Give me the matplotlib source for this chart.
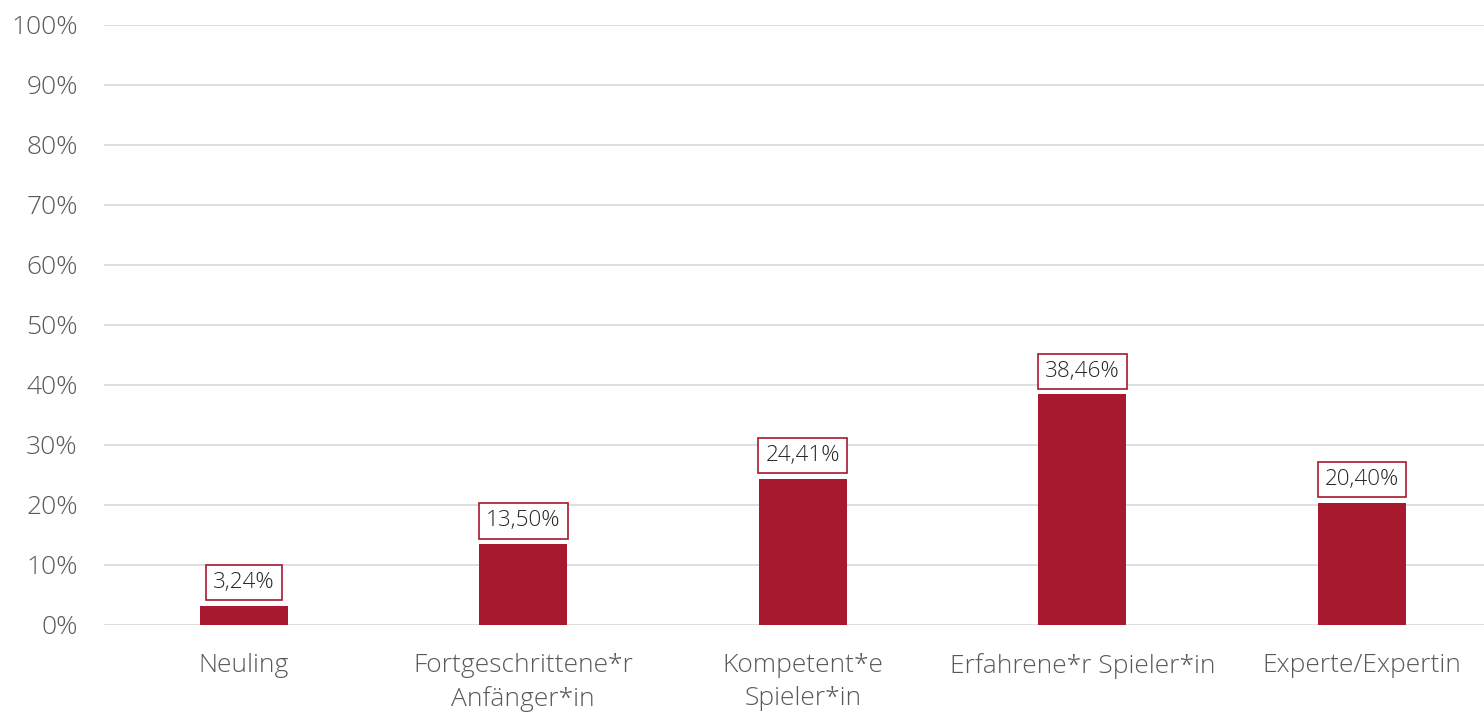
import matplotlib.pyplot as plt
from matplotlib.ticker import FuncFormatter

categories = ['Neuling', 'Fortgeschrittene*r\nAnfänger*in', 'Kompetent*e\nSpieler*in',
              'Erfahrene*r Spieler*in', 'Experte/Expertin']
values = [3.24, 13.50, 24.41, 38.46, 20.40]
yticks = list(range(0, 101, 10))

bar_color = '#A6192E'
plt.rcParams['font.family'] = ['Open Sans', 'DejaVu Sans']

fig = plt.figure(figsize=(14.84, 7.15), dpi=100)
ax = fig.add_axes([0.0701, 0.1259, 0.9299, 0.8392])

x = list(range(len(categories)))
ax.bar(x, values, width=0.315, color=bar_color, zorder=3)

for xi, v in zip(x, values):
    ax.annotate(f'{v:.2f}%'.replace('.', ','), (xi, v), xytext=(0, 9),
                textcoords='offset points', ha='center', va='bottom',
                fontsize=16.2, color='#262626', fontweight='light', zorder=4,
                bbox=dict(boxstyle='square,pad=0.32', fc='white', ec=bar_color, lw=1.2))

ax.set_ylim(0, 100)
ax.set_xlim(-0.5, 4.437)
ax.set_yticks(yticks)
ax.yaxis.set_major_formatter(FuncFormatter(lambda v, _: f'{v:.0f}%'))
ax.set_xticks(x)
ax.set_xticklabels(categories, fontsize=19, color='#595959', fontweight='light', linespacing=1.42)
ax.tick_params(axis='y', labelsize=19, labelcolor='#595959', length=0, pad=19)
ax.tick_params(axis='x', length=0, pad=20)
for lab in ax.get_yticklabels():
    lab.set_fontweight('light')

ax.grid(axis='y', color='#d9d9d9', lw=1.2, zorder=0)
for s in ax.spines.values():
    s.set_visible(False)

fig.savefig('out.png', dpi=100)
